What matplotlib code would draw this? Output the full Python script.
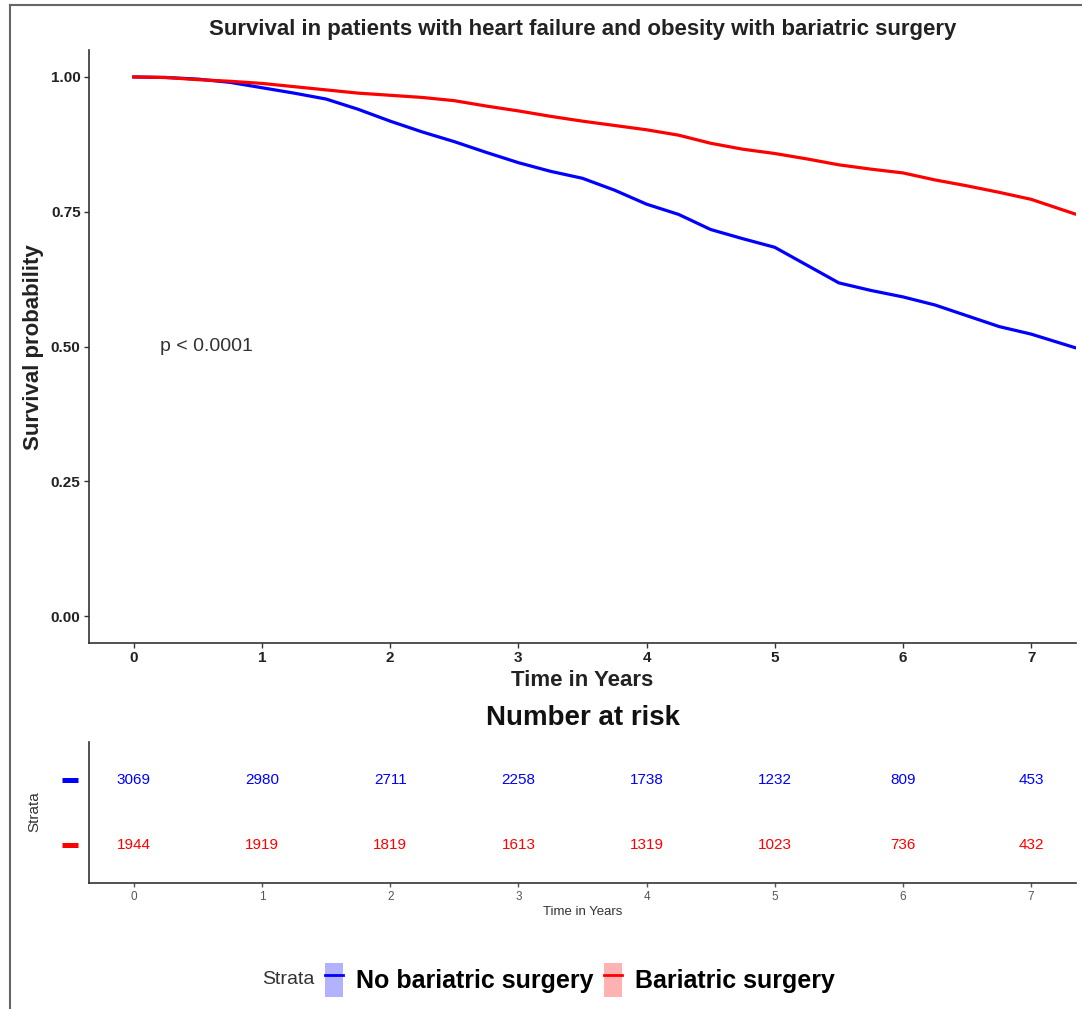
import matplotlib
matplotlib.use("Agg")
import matplotlib.pyplot as plt
from matplotlib.lines import Line2D
from matplotlib.patches import Patch
from matplotlib.legend_handler import HandlerTuple

plt.rcParams['font.family'] = ['Liberation Sans', 'DejaVu Sans']

# survival curves (years, probability)
years = [0, 0.25, 0.5, 0.75, 1.0, 1.25, 1.5, 1.75, 2.0, 2.25, 2.5, 2.75, 3.0, 3.25, 3.5,
         3.75, 4.0, 4.25, 4.5, 4.75, 5.0, 5.25, 5.5, 5.75, 6.0, 6.25, 6.5, 6.75, 7.0, 7.34]
surv_no_surgery = [1.000, 0.999, 0.996, 0.990, 0.980, 0.970, 0.959, 0.940, 0.918, 0.898,
                   0.880, 0.860, 0.841, 0.825, 0.812, 0.790, 0.764, 0.745, 0.717, 0.700,
                   0.684, 0.651, 0.618, 0.604, 0.592, 0.577, 0.557, 0.537, 0.523, 0.498]
surv_surgery = [1.000, 0.999, 0.995, 0.992, 0.988, 0.982, 0.976, 0.970, 0.966, 0.962,
                0.956, 0.946, 0.937, 0.927, 0.918, 0.910, 0.902, 0.892, 0.877, 0.866,
                0.858, 0.848, 0.837, 0.829, 0.822, 0.809, 0.798, 0.786, 0.773, 0.746]

# number at risk table
risk_years = [0, 1, 2, 3, 4, 5, 6, 7]
risk_no_surgery = [3069, 2980, 2711, 2258, 1738, 1232, 809, 453]
risk_surgery = [1944, 1919, 1819, 1613, 1319, 1023, 736, 432]

labels = ["No bariatric surgery", "Bariatric surgery"]
colors = ["blue", "red"]

W, H = 1082, 1009
fig = plt.figure(figsize=(W / 100, H / 100), dpi=100)

ax = fig.add_axes([89 / W, 1 - 643 / H, (1076 - 89) / W, (643 - 50) / H])
tax = fig.add_axes([89 / W, 1 - 883 / H, (1076 - 89) / W, (883 - 742) / H])

ax.plot(years, surv_no_surgery, color=colors[0], lw=2.3)
ax.plot(years, surv_surgery, color=colors[1], lw=2.3)
ax.set_xlim(-0.35, 7.35)
ax.set_ylim(-0.05, 1.05)
ax.set_xticks(risk_years)
ax.set_yticks([0, 0.25, 0.5, 0.75, 1.0])
ax.set_yticklabels(["0.00", "0.25", "0.50", "0.75", "1.00"])
ax.text(0.2, 0.5, "p < 0.0001", fontsize=14, color="#333333", va="center", ha="left")

for a in (ax, tax):
    a.spines['top'].set_visible(False)
    a.spines['right'].set_visible(False)
    a.spines['left'].set_color('#333333')
    a.spines['bottom'].set_color('#333333')
    a.spines['left'].set_linewidth(1.2)
    a.spines['bottom'].set_linewidth(1.2)

ax.tick_params(axis='both', length=3.6, width=1, color='#333333', pad=2.5)
for lbl in ax.get_xticklabels() + ax.get_yticklabels():
    lbl.set_fontweight('bold')
    lbl.set_fontsize(11)
    lbl.set_color('#222222')

# risk table
for row, (counts, c) in enumerate([(risk_surgery, colors[1]), (risk_no_surgery, colors[0])]):
    for x, n in zip(risk_years, counts):
        tax.text(x, row + 1, str(n), color=c, fontsize=11, ha='center', va='center')
    tax.plot([-0.0274, -0.0111], [row + 1, row + 1], color=c, lw=3.6,
             solid_capstyle='butt', transform=tax.get_yaxis_transform(), clip_on=False)
tax.set_xlim(-0.35, 7.35)
tax.set_ylim(0.4, 2.6)
tax.set_xticks(risk_years)
tax.set_yticks([])
tax.tick_params(axis='x', length=3, width=1, color='#555555', labelsize=8.5,
                labelcolor='#555555', pad=2.5)

# texts
fig.text(582.5 / W, 1 - 30 / H, "Survival in patients with heart failure and obesity with bariatric surgery",
         ha='center', va='center', fontsize=16, fontweight='bold', color='#222222')
fig.text(34 / W, 1 - 347 / H, "Survival probability", rotation=90, ha='center', va='center',
         fontsize=16, fontweight='bold', color='#222222')
fig.text(582.5 / W, 1 - 680 / H, "Time in Years", ha='center', va='center',
         fontsize=16, fontweight='bold', color='#222222')
fig.text(582.5 / W, 1 - 718 / H, "Number at risk", ha='center', va='center',
         fontsize=20, fontweight='bold', color='#111111')
fig.text(582.5 / W, 1 - 912 / H, "Time in Years", ha='center', va='center',
         fontsize=9.5, color='#333333')
fig.text(34 / W, 1 - 812 / H, "Strata", rotation=90, ha='center', va='center',
         fontsize=11, color='#333333')

# legend
fig.text(262 / W, 1 - 980 / H, "Strata", ha='left', va='center', fontsize=14, color='#333333')
handles = [(Patch(facecolor=c, alpha=0.3, edgecolor='none'), Line2D([], [], color=c, lw=2))
           for c in colors]
fig.legend(handles, labels, handler_map={tuple: HandlerTuple(ndivide=1, pad=0)},
           loc='center left', bbox_to_anchor=(325 / W, 1 - 980 / H), ncol=2, frameon=False,
           prop={'weight': 'bold', 'size': 18}, handlelength=0.72, handleheight=1.75,
           handletextpad=0.5, columnspacing=0.45, borderpad=0, borderaxespad=0)

# outer frame of the screenshot (left and top only)
fig.add_artist(Line2D([10 / W, 10 / W], [0, 1 - 5 / H], color='#666666', lw=1.5))
fig.add_artist(Line2D([10 / W, 1], [1 - 5 / H, 1 - 5 / H], color='#666666', lw=1.5))

fig.savefig("out.png", dpi=100)
